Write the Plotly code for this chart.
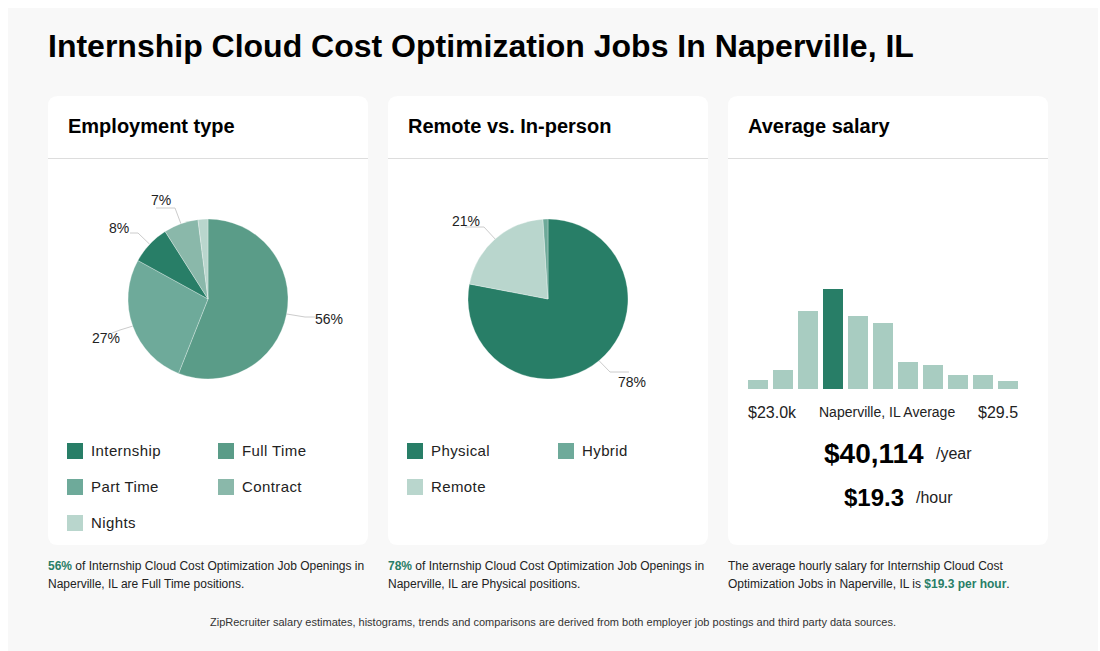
# -*- coding: utf-8 -*-
import math
import plotly.graph_objects as go

# the page body has an 8px margin, so the figure starts at (8, 8)
OFFSET = 8
W = 1092
H = 643
FONT = 'Liberation Sans'
GREEN = '#287e67'

# data
employment_labels = ['Full Time', 'Part Time', 'Internship', 'Contract', 'Nights']
employment_values = [56, 27, 8, 7, 2]
employment_colors = ['#5a9c88', '#6eaa9a', '#287e67', '#8ab8aa', '#b9d6cd']

remote_labels = ['Physical', 'Remote', 'Hybrid']
remote_values = [78, 21, 1]
remote_colors = ['#287e67', '#b9d6cd', '#6eaa9a']

salary_bins = list(range(11))
salary_heights = [9, 19, 78, 100, 73, 66, 27, 24, 14, 14, 8]
highlight_bin = 3


def px(x):
    return (x - OFFSET) / W


def py(y):
    return 1 - (y - OFFSET) / H


def text(fig, x, y, s, size, color='#111', anchor='left', bold=False):
    if bold:
        s = '<b>' + s + '</b>'
    # annotations sit about 1px right of the requested left edge
    xs = -1 if anchor == 'left' else 0
    fig.add_annotation(x=px(x), y=py(y), xref='paper', yref='paper', text=s, showarrow=False,
                       xanchor=anchor, yanchor='middle', borderpad=0, xshift=xs,
                       font=dict(family=FONT, size=size, color=color))


def round_rect(x0, y0, x1, y1, r):
    p = [(x0 + r, y0), (x1 - r, y0), (x1, y0, x1, y0 + r), (x1, y1 - r), (x1, y1, x1 - r, y1),
         (x0 + r, y1), (x0, y1, x0, y1 - r), (x0, y0 + r), (x0, y0, x0 + r, y0)]
    d = 'M'
    for i, c in enumerate(p):
        if len(c) == 2:
            d += ('' if i == 0 else ' L') + f'{px(c[0])},{py(c[1])}'
        else:
            d += f' Q{px(c[0])},{py(c[1])} {px(c[2])},{py(c[3])}'
    return d + ' Z'


fig = go.Figure()

# pies
for vals, labs, cols, cx in [(employment_values, employment_labels, employment_colors, 208),
                             (remote_values, remote_labels, remote_colors, 548)]:
    fig.add_trace(go.Pie(values=vals, labels=labs, sort=False, direction='clockwise', rotation=0,
                         marker=dict(colors=cols, line=dict(color='white', width=0.3)),
                         textinfo='none', showlegend=False,
                         domain=dict(x=[px(cx - 80), px(cx + 80)], y=[py(379), py(219)])))

# histogram
bar_colors = [GREEN if i == highlight_bin else '#a8ccc1' for i in salary_bins]
fig.add_trace(go.Bar(x=salary_bins, y=salary_heights, marker=dict(color=bar_colors, line_width=0),
                     showlegend=False))

fig.update_layout(
    width=W, height=H, margin=dict(l=0, r=0, t=0, b=0), autosize=False,
    paper_bgcolor='white', plot_bgcolor='rgba(0,0,0,0)', bargap=0.2,
    xaxis=dict(domain=[px(748), px(1018)], range=[-0.4, 10.4], visible=False, fixedrange=True),
    yaxis=dict(domain=[py(389), py(289)], range=[0, 100], visible=False, fixedrange=True),
)

shapes = [dict(type='rect', xref='paper', yref='paper', x0=px(8), x1=px(1098), y0=py(651), y1=py(8),
               fillcolor='#f8f8f8', line_width=0, layer='below')]
for x0 in [48, 388, 728]:
    shapes.append(dict(type='path', xref='paper', yref='paper', path=round_rect(x0, 96, x0 + 320, 545, 10),
                       fillcolor='white', line_width=0, layer='below'))
    shapes.append(dict(type='line', xref='paper', yref='paper', x0=px(x0), x1=px(x0 + 320),
                       y0=py(158.5), y1=py(158.5), line=dict(color='#dddddd', width=1), layer='below'))


def mid_point(values, idx, cx, cy=299, r=80):
    # edge of the slice at its middle angle
    a = (sum(values[:idx]) + values[idx] / 2) / sum(values) * 2 * math.pi
    return cx + r * math.sin(a), cy - r * math.cos(a)


def leader(values, idx, cx, elbow, end, label_x, label_y):
    sx, sy = mid_point(values, idx, cx)
    shapes.append(dict(type='path', xref='paper', yref='paper',
                       path=f'M{px(sx)},{py(sy)} L{px(elbow[0])},{py(elbow[1])} L{px(end[0])},{py(end[1])}',
                       line=dict(color='#cccccc', width=1), layer='below'))
    text(fig, label_x, label_y, f'{values[idx]}%', 14, '#222')


leader(employment_values, 0, 208, (305, 317), (315, 317), 315, 319)
leader(employment_values, 1, 208, (120, 330), (112, 333), 92, 338)
leader(employment_values, 2, 208, (138, 233), (130, 233), 109, 228)
leader(employment_values, 3, 208, (175, 208), (156, 208), 151, 200)
leader(remote_values, 0, 548, (610, 372), (629, 372), 618, 382)
leader(remote_values, 1, 548, (484, 227), (465, 227), 452, 221)

# legends
legend_items = [(67, 451, 'Internship', 2, employment_colors), (218, 451, 'Full Time', 0, employment_colors),
                (67, 487, 'Part Time', 1, employment_colors), (218, 487, 'Contract', 3, employment_colors),
                (67, 523, 'Nights', 4, employment_colors),
                (407, 451, 'Physical', 0, remote_colors), (558, 451, 'Hybrid', 2, remote_colors),
                (407, 487, 'Remote', 1, remote_colors)]
for lx, ly, name, ci, cols in legend_items:
    shapes.append(dict(type='rect', xref='paper', yref='paper', x0=px(lx), x1=px(lx + 16),
                       y0=py(ly + 8), y1=py(ly - 8), fillcolor=cols[ci], line_width=0))
    text(fig, lx + 24, ly - 0.5, f'<span style="letter-spacing:0.4px">{name}</span>', 15, '#222')

fig.update_layout(shapes=shapes)

# titles
text(fig, 48, 46, 'Internship Cloud Cost Optimization Jobs In Naperville, IL', 32, '#000', bold=True)
text(fig, 68, 126, 'Employment type', 20, '#000', bold=True)
text(fig, 408, 126, 'Remote vs. In-person', 20, '#000', bold=True)
text(fig, 748, 126, 'Average salary', 20, '#000', bold=True)

# salary texts
text(fig, 748, 412, '$23.0k', 16, '#222')
text(fig, 819, 412, 'Naperville, IL Average', 14, '#222')
text(fig, 978, 412, '$29.5', 16, '#222')
text(fig, 824, 454, '$40,114', 28, '#000', bold=True)
text(fig, 936, 454, '/year', 16, '#222')
text(fig, 844, 498, '$19.3', 24, '#000', bold=True)
text(fig, 916, 498, '/hour', 16, '#222')

# notes
em = lambda s: f'<b><span style="color:{GREEN}">{s}</span></b>'
text(fig, 48, 566, em('56%') + ' of Internship Cloud Cost Optimization Job Openings in', 12, '#222')
text(fig, 48, 584, 'Naperville, IL are Full Time positions.', 12, '#222')
text(fig, 388, 566, em('78%') + ' of Internship Cloud Cost Optimization Job Openings in', 12, '#222')
text(fig, 388, 584, 'Naperville, IL are Physical positions.', 12, '#222')
text(fig, 728, 566, 'The average hourly salary for Internship Cloud Cost', 12, '#222')
text(fig, 728, 584, 'Optimization Jobs in Naperville, IL is ' + em('$19.3 per hour') + '.', 12, '#222')
text(fig, 553, 622, 'ZipRecruiter salary estimates, histograms, trends and comparisons are derived from both employer job postings and third party data sources.',
     11, '#333', anchor='center')

# the figure runs past the body box, keep the window from scrolling or clipping it
fig.write_html("out.html", default_width='1092px', default_height='643px',
               post_script="document.documentElement.style.overflow='hidden';document.body.style.width='1092px';")
